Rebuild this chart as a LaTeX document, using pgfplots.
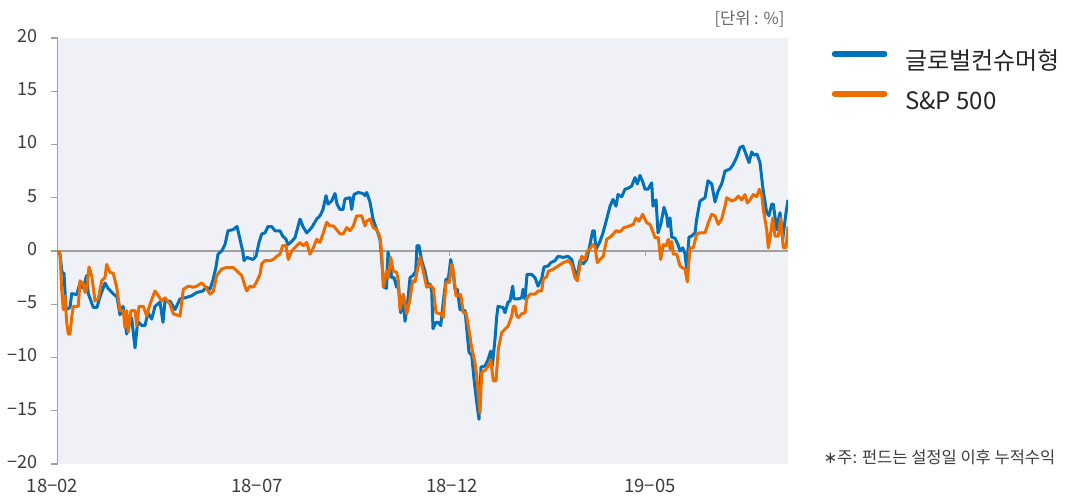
\documentclass[border=0pt]{standalone}
\usepackage{pgfplots}
\pgfplotsset{compat=1.18}
\usepackage{pgfplotstable}
\usepackage{fontspec}
\setmainfont{Noto Sans CJK KR}
\newfontfamily\dejavu{DejaVu Sans}
\definecolor{fundblue}{RGB}{0,114,188}
\definecolor{spor}{RGB}{236,108,0}
\definecolor{bgc}{RGB}{240,241,247}
\definecolor{axgray}{RGB}{160,160,160}
\definecolor{txt}{RGB}{60,60,60}

\pgfplotstableread{
x y
57.5 0
60 -0.3
62 -2
64 -2.1
66 -5.5
70 -5.3
71.7 -4
76.7 -4.1
80 -3
83 -3.5
86.7 -2.3
88.3 -4
93.3 -5.3
97 -5.3
100 -4.3
105 -3
108 -3.5
113 -4
117 -4.3
120 -6
123 -5.2
126.7 -7.8
128.3 -7
131.7 -6.3
135 -9.1
137.7 -6.6
141.7 -7
145 -7
148 -5.8
151.7 -6.4
155 -5.2
160 -4.8
163 -6.7
165 -4.7
170 -4.7
175 -5.5
180 -4.5
185 -4.4
191.7 -4.2
196.7 -3.9
203 -3.75
206 -3.4
210 -3.6
213 -2.7
216 -1.5
218 -0.3
221.7 0
225 0.6
228 1.9
233 2.0
237 2.3
240 1.1
242.7 0
244 -0.9
247 -0.6
250 -0.7
253 -0.8
256 -0.5
259 0.8
261.7 1.6
265 1.7
268 2.3
271.7 2.3
275 1.9
280 1.9
282.7 1.4
286 1.1
288 0.6
291.7 0.9
295 1.25
300 3.0
303 2.3
306.7 1.7
311.7 2.2
316.7 3.0
320 3.3
323 3.9
326 5.2
328 4.4
331.7 4.7
335 5.4
337 4.4
340 3.9
343 3.9
345 4.9
350 5.0
351.7 3.9
354 5.3
358 5.5
363 5.4
365 5.2
366.7 5.5
370 4.6
373 3.0
376.7 2.0
380 1.1
382.7 -2
384 -3.4
386.5 -3.5
388 -0.1
389.5 -0.7
391.7 -2.5
394 -2.5
396.7 -3.4
398 -2.8
400.7 -5.8
403 -4.2
405 -6.6
407.5 -5.0
410 -2.5
413 -2.3
415.7 -1.9
417 0.5
419 0.5
421.7 -0.9
425 -1.9
428 -3.3
430 -3.1
431.7 -3.75
433 -7.3
436 -6.7
438 -6.7
440.7 -7
444 -4.2
446 -2.65
448.3 -2.65
450.7 -0.8
452.7 -1.6
455 -3.6
457.3 -3.6
460 -5.5
465 -5.6
469 -9.5
471.7 -9.8
474 -12
476.7 -14.2
479 -15.8
481 -10.9
485 -10.8
488 -10.2
490.7 -9.4
492.3 -10.8
495 -8.3
496.7 -6.2
498 -5.2
503 -5.3
505 -5.8
508 -4.8
510 -4.7
512.7 -3.3
514 -4.5
518 -4.5
521.7 -4.4
523 -3.6
525 -4.5
527 -2.2
531.7 -2.2
535 -2.5
538 -3.3
541.7 -2.6
544 -1.5
548.3 -1.4
550.7 -1.1
555 -0.9
558 -0.5
563.3 -0.6
568 -0.5
571.7 -0.8
575 -2
577.3 -2.3
580 -0.9
583.3 -1.2
586.7 -0.8
590 0.6
592.7 1.9
594.3 1.9
596 0.15
600 0.9
603 1.7
606.7 3.0
610 4.2
613 4.85
616 4.2
618 5.3
621.7 5.1
625 5.8
628.3 5.9
631.7 6.1
635 6.9
637.3 6.3
640 7.1
642.7 6.5
645 5.8
648 5.8
651.7 6.4
653 4.2
656 4.8
658 1.7
660.7 2.5
664 4.1
666.7 3.3
668 2.3
670 3.1
671.7 1.3
675 1.2
678 0.6
680 0
682.7 0.3
685 -0.3
686.7 -1.7
689 1.3
691.7 1.4
695 1.7
696.7 3.0
700 4.7
705 5.0
708 6.6
711.7 6.3
715 4.6
718 5.6
721.7 6.3
725 7.5
730 7.7
733 8.1
736.7 8.8
740 9.7
743 9.85
746.7 8.9
749 8.3
751.7 9.3
754 9.0
757 9.1
760 8.3
763 5.8
766.7 3.6
769 3.3
771.7 4.4
773.3 4.4
776.7 2.0
778.3 2.9
780 3.6
782.7 1.1
786 3.6
788 4.8
}\fundtable

\pgfplotstableread{
x y
57.5 0
60 -0.2
61.7 -3.6
63.3 -5.5
65 -4.2
66.7 -6.7
68.3 -7.8
70 -7.8
71.7 -6.2
73.3 -5.2
78.3 -5.2
80 -2.8
83.3 -3.1
85 -3.9
86.7 -3.6
89 -1.5
91.7 -2.3
95 -4.7
98.3 -4.5
101.7 -2.8
105 -2.5
106.7 -1.25
110 -2.0
113.3 -2.1
116.7 -3.4
120 -5.6
123.3 -5.6
125 -7.2
126.7 -5.6
128.3 -7.6
131 -5.6
135 -5.6
136.7 -7.0
139 -5.2
143.3 -5.2
146.7 -6.1
150 -5.0
155 -3.75
158.3 -4.2
161.7 -4.7
165 -4.4
170 -5.0
173.3 -5.9
180 -6.1
183.3 -3.6
188.3 -3.3
193.3 -3.4
196.7 -3.3
201.7 -3.0
205 -3.3
210 -4.05
213.3 -3.8
216.7 -2.3
221.7 -1.7
226.7 -1.55
233.3 -1.55
238.3 -2.0
241.7 -2.3
245 -3.3
246.7 -3.75
250 -3.3
253.3 -3.4
256 -3.0
260 -2.2
261.7 -1.2
265 -0.9
270 -0.9
273.3 -0.8
276.7 -0.5
280 -0.3
282.7 0.5
286 0.5
288.3 -0.8
291.7 0
296.7 0.5
300 0.8
303.3 0.5
306.7 0.8
310 -0.3
313.3 0.3
316.7 1.1
320 0.8
323.3 1.7
326.7 2.7
330 2.35
333.3 2.35
336.7 2.0
340 1.6
343.3 1.6
346.7 2.2
350 1.9
353.3 2.35
356.7 3.3
361.7 3.3
365 2.35
366.7 2.8
370 3.0
373.3 2.2
376.7 2.0
378.3 1.7
380 1.25
381.5 0
383.3 -3.4
386.7 -1.9
388.3 -2.5
390.7 -0.6
393.3 -1.9
396.7 -2.0
398.3 -2.8
400 -5.5
403.3 -4.05
406.7 -5.9
410 -4.5
412.7 -2.8
415 -2.9
416.7 -2.1
420 -0.6
423.3 -1.9
426.7 -3.4
430 -3.2
433.3 -3.5
436 -5.8
440.7 -5.9
443.3 -6.25
446 -2.95
449.3 -2.95
451.7 -1.25
453.3 -1.9
456 -4.2
460.7 -4.1
463.3 -5.8
466 -5.8
468.3 -7.0
471.7 -9.1
475 -10.5
476.7 -11.7
480 -15.2
481.7 -11.4
485 -11.2
488.3 -10.8
490.7 -10.2
493.3 -12.2
496 -12.2
498.3 -9.2
501.7 -7.65
506.7 -7.2
508.3 -7.0
511.7 -6.1
513.3 -5.2
515 -5.2
516.7 -6.1
518.3 -6.25
521.7 -5.9
525 -5.8
526.7 -4.5
530 -4.05
535 -4.05
538.3 -3.75
541.7 -3.75
543.3 -2.65
546.7 -2.4
548.3 -1.9
553.3 -1.7
558.3 -1.4
563.3 -1.1
568.3 -0.9
571.7 -1.3
575 -2.5
577.3 -2.8
580 -1.4
581.7 -0.5
585 -0.8
587.3 0
590 0.2
592.7 0.6
595 0.4
597.3 -1.1
600 -0.8
603.3 -0.5
606.7 1.1
610 1.3
613.3 1.6
616 1.9
620 1.8
624 2.2
628 2.3
633.3 2.5
636 3.1
639 2.8
642.7 3.45
646.7 2.65
650 2.5
653.3 1.7
655 1.25
658.3 1.25
660.7 -0.8
663.3 0.6
666 0.5
668.3 1.1
670 0.2
671.7 0.9
673.3 -0.3
676.7 -0.3
680 -1.4
682.7 -1.6
685 -1.7
687.3 -2.9
690 0.3
693.3 0.3
696.7 1.6
700 1.7
705 1.7
708.3 2.65
711.7 3.45
715 3.3
718.3 2.5
721.7 3.0
725 4.2
726.7 5.0
731.7 4.7
735 4.8
738.3 5.15
741.7 4.8
745 5.3
747.3 4.5
750 4.8
753.3 5.3
756.7 5.1
759.3 5.8
761.7 5.3
763.3 3.9
766.7 2.0
768.3 0.3
770 1.25
772.7 3.1
775 1.4
778.3 1.4
780.7 3.1
783.3 0.3
786 0.3
788 2.3
}\sptable

\pgfplotstableread{
x y
57.5 0
788 0
}\zerotable

\begin{document}
\begin{tikzpicture}
\useasboundingbox (0,0) rectangle (1065pt,497pt);
\begin{axis}[
  at={(57.5pt,33pt)}, anchor=south west,
  scale only axis, width=730.5pt, height=426pt,
  xmin=57.5, xmax=788, ymin=-20, ymax=20,
  axis lines*=left,
  axis background/.style={fill=bgc},
  x axis line style={draw=none},
  y axis line style={draw=axgray, line width=1.6pt},
  ytick={-20,-15,-10,-5,0,5,10,15,20},
  yticklabels={−20,−15,−10,−5,0,5,10,15,20},
  ytick style={draw=axgray, line width=1.2pt},
  tick align=outside, major tick length=7pt,
  yticklabel style={font=\fontsize{18}{20}\selectfont, text=txt, anchor=east, yshift=2pt, xshift=-9pt},
  xtick={257,452,650},
  xticklabels={18−07,18−12,19−05},
  extra x ticks={57.5},
  extra x tick labels={18−02},
  extra x tick style={xticklabel style={xshift=-5pt}},
  xtick style={draw=none},
  xticklabel style={font=\fontsize{18.5}{20}\selectfont, text=txt, yshift=-5pt},
  legend style={at={(axis description cs:1.06,0.8955)}, anchor=west, draw=none, fill=none,
    inner sep=0pt, outer sep=0pt, row sep=17pt, column sep=18pt,
    font=\fontsize{24}{27}\selectfont, text=black!85,
    nodes={inner sep=0pt, text height=18pt, text depth=5pt}},
  legend cell align=left,
  legend image code/.code={\draw[#1, line width=5.5pt, line cap=round] (1pt,8.5pt) -- (51pt,8.5pt);},
]
\addplot[draw=axgray, line width=1.3pt, forget plot] table[x=x,y=y] {\zerotable};
\addplot[draw=axgray, line width=1pt, forget plot, ycomb] coordinates {(253,-0.45) (449,-0.45) (645,-0.45)};
\addplot[fundblue, line width=3pt, line join=round] table[x=x,y=y] {\fundtable};
\addlegendentry{글로벌컨슈머형}
\addplot[spor, line width=3pt, line join=round] table[x=x,y=y] {\sptable};
\addlegendentry{S\&P 500}
\end{axis}
\node[anchor=east, text=black!60, font=\fontsize{16.5}{18}\selectfont] at (788pt,478pt) {[단위 : \%]};
\node[anchor=west, text=txt, font=\fontsize{16.5}{18}\selectfont] at (820pt,40pt) {{\dejavu ∗}주: 펀드는 설정일 이후 누적수익};
\end{tikzpicture}
\end{document}
